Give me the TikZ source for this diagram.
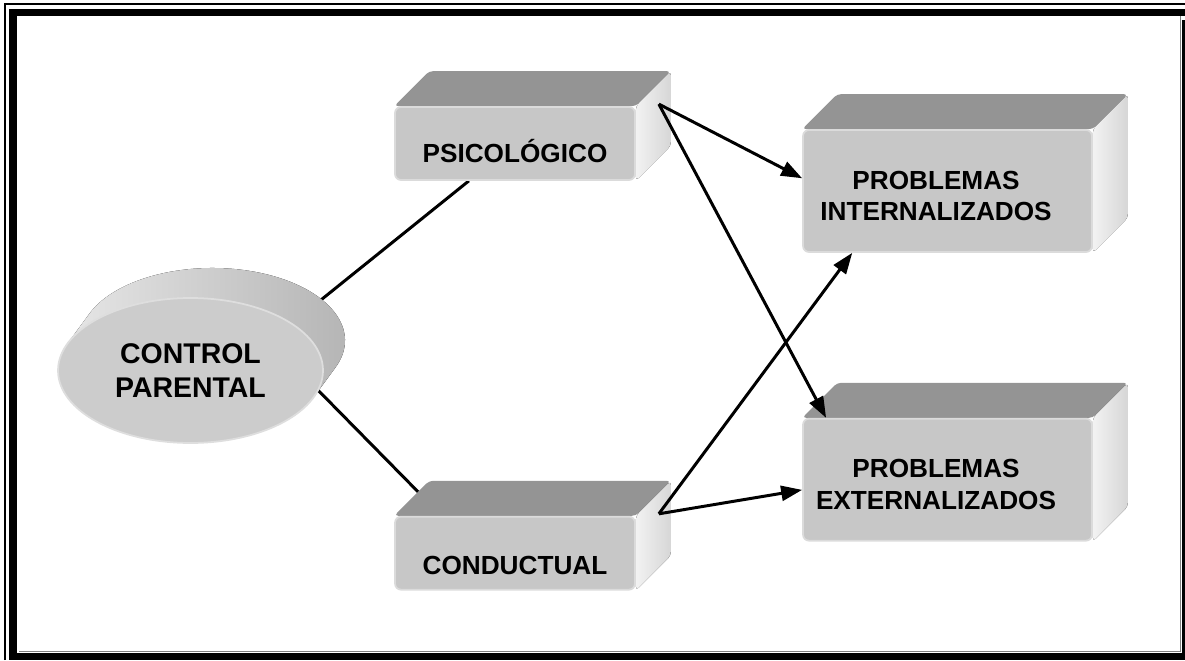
\documentclass[tikz,border=0pt]{standalone}
\usepackage{fontspec}
\setmainfont{Liberation Sans}
\usetikzlibrary{shapes.geometric, arrows.meta, positioning, calc}
\pgfdeclarelayer{back}
\pgfdeclarelayer{background}
\pgfsetlayers{back,background,main}

\begin{document}
\begin{tikzpicture}[
    x=0.02cm, y=0.02cm,
    face/.style={rectangle, fill=black!22, draw=black!14, line width=1pt, rounded corners=0.12cm, inner sep=0pt, minimum width=4.8cm, minimum height=1.46cm},
    bigface/.style={face, minimum width=5.78cm, minimum height=2.44cm},
    oval/.style={ellipse, fill=black!20, draw=black!13, line width=1pt, inner sep=0pt, minimum width=5.3cm, minimum height=2.9cm},
    topside/.style={fill=black!42, rounded corners=0.08cm},
    rightside/.style={left color=black!5, right color=black!16, rounded corners=0.08cm},
    rim/.style={left color=black!8, right color=black!30},
    boxfont/.style={font=\fontsize{14.9}{18.1}\selectfont\bfseries},
    ovalfont/.style={font=\fontsize{16.2}{19.8}\selectfont\bfseries},
    link/.style={line width=1.7pt},
    arrow/.style={line width=1.7pt, -{Triangle[length=0.42cm, width=0.3cm]}}
]
\useasboundingbox (0,0) rectangle (1185,660);

% marco doble
\fill (9,0) rectangle (17,651);
\fill (9,644) rectangle (1185,651);
\draw[line width=0.7pt] (5,0) -- (5,656) -- (1185,656);
\fill (13,0) rectangle (1185,7);
\fill (1182,0) rectangle (1185,640);
\draw[black!50, line width=0.5pt] (19,9) -- (1180,9) -- (1180,644);

% nodos
\node (ctrl) [oval, label={[ovalfont, align=center]center:CONTROL\\PARENTAL}] at (190.5,289.5) {};
\node (psico) [face, label={[boxfont, yshift=-0.16cm]center:PSICOLÓGICO}] at (515,516.5) {};
\node (conduc) [face, below=6.7cm of psico, label={[boxfont, yshift=-0.24cm]center:CONDUCTUAL}] {};
\node (intern) [bigface, label={[boxfont, align=center, xshift=-0.23cm, yshift=-0.1cm]center:PROBLEMAS\\INTERNALIZADOS}] at (947.5,469) {};
\node (extern) [bigface, below=3.3cm of intern, label={[boxfont, align=center, xshift=-0.23cm, yshift=-0.1cm]center:PROBLEMAS\\EXTERNALIZADOS}] {};

% caras en relieve
\begin{pgfonlayer}{background}
  \foreach \n in {psico, conduc, intern, extern} {
    \fill[topside] (\n.north west) -- ++(35,35) -- ($(\n.north east)+(35,35)$) -- (\n.north east) -- cycle;
    \fill[rightside] (\n.north east) -- ++(35,35) -- ($(\n.south east)+(35,35)$) -- (\n.south east) -- cycle;
  }
  \fill[rim] ($(ctrl.center)+(158.15:132.5 and 72.5)$) arc[start angle=158.15, end angle=338.15, x radius=132.5, y radius=72.5]
    -- ++(22,30) arc[start angle=-21.85, end angle=158.15, x radius=132.5, y radius=72.5] -- cycle;
\end{pgfonlayer}

% lineas sin flecha, por detras
\begin{pgfonlayer}{back}
  \draw[link] (ctrl.25) -- (psico.219);
  \draw[link] (ctrl.-9) -- (conduc.153);
\end{pgfonlayer}

% flechas
\coordinate (psicoout) at ($(psico.north east)+(23,2)$);
\coordinate (conducout) at ($(conduc.north east)+(23,2)$);
\draw[arrow] (psicoout) -- (intern.175);
\draw[arrow] (psicoout) -- (extern.153);
\draw[arrow] (conducout) -- (intern.213);
\draw[arrow] (conducout) -- (extern.184);

\end{tikzpicture}
\end{document}
